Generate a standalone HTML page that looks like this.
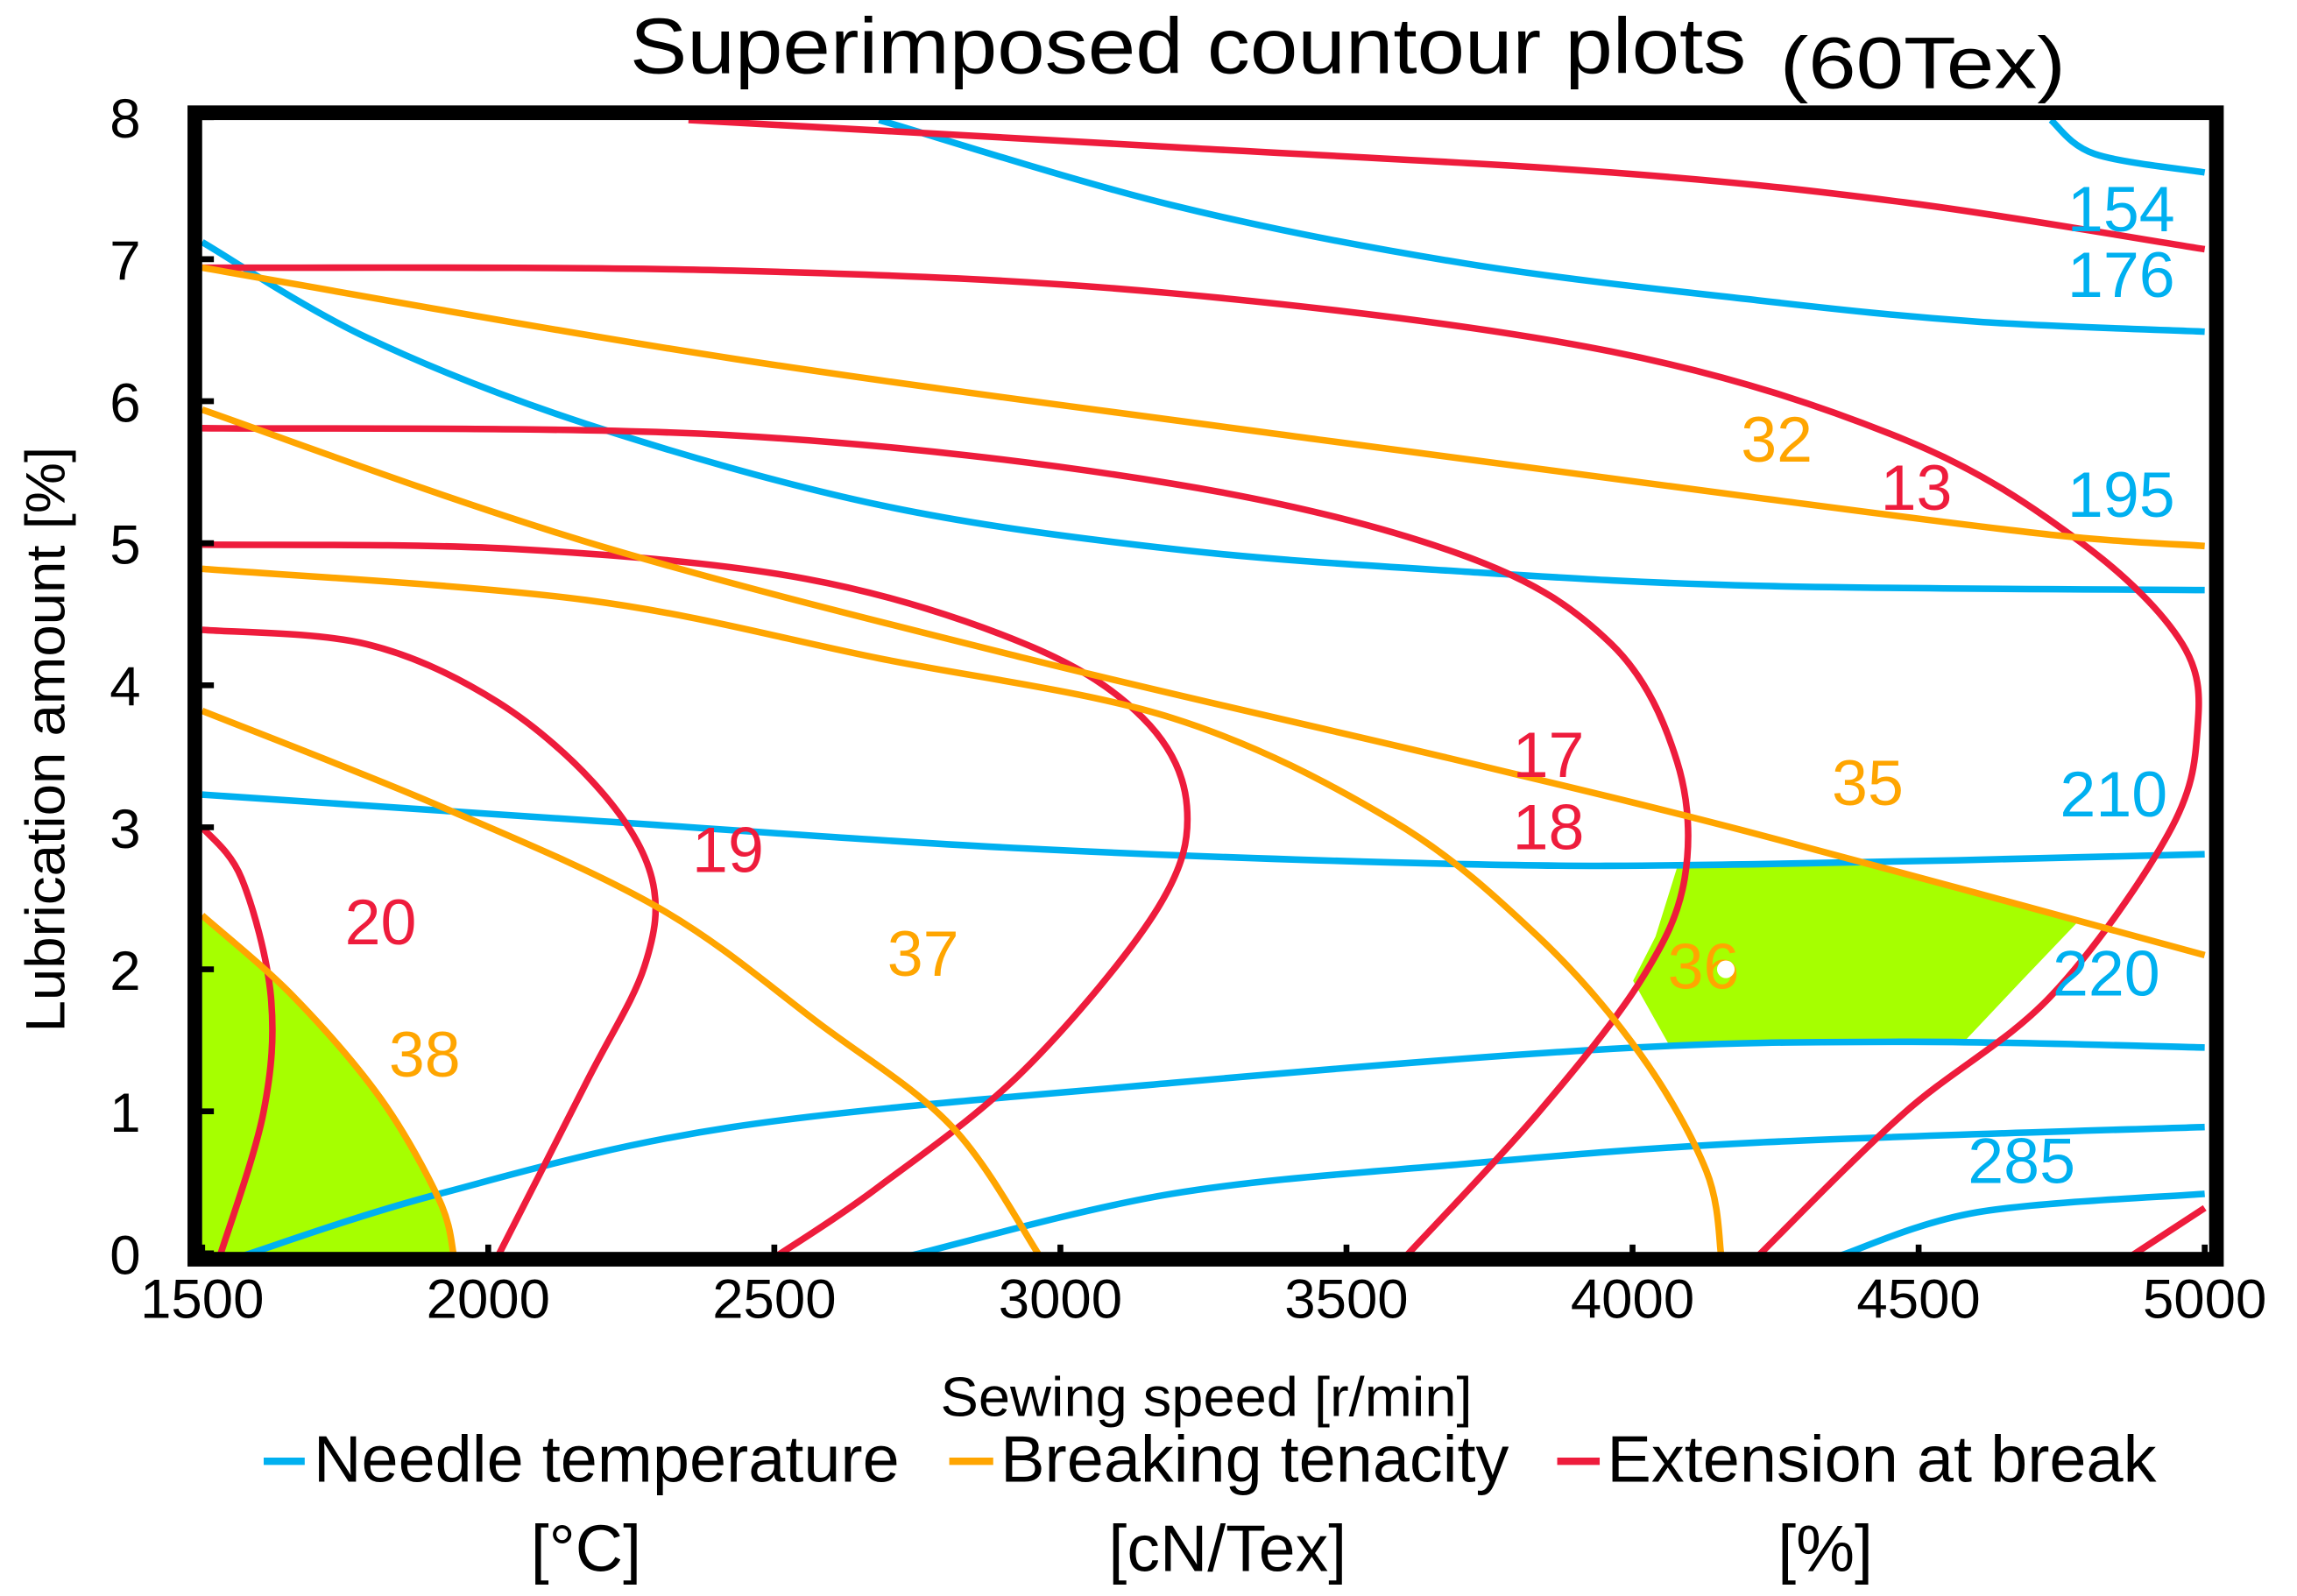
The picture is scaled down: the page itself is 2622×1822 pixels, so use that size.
<!DOCTYPE html>
<html><head><meta charset="utf-8"><style>
html,body{margin:0;padding:0;background:#fff;}
svg{display:block;font-family:"Liberation Sans",Arial,sans-serif;}
</style></head><body>
<svg id="chart" width="2622" height="1822" viewBox="0 0 1568 1090" preserveAspectRatio="none" xmlns="http://www.w3.org/2000/svg">
<text x="430" y="50" font-size="54" textLength="762" lengthAdjust="spacingAndGlyphs">Superimposed countour plots</text>
<text x="1215" y="60" font-size="50" textLength="195" lengthAdjust="spacingAndGlyphs">(60Tex)</text>
<g id="fills"></g>
<g id="lines"></g>
<g id="labels"></g>
<rect x="133" y="77" width="1380" height="783" fill="none" stroke="#000" stroke-width="10"/>
<g id="ticks"></g>
<text x="642" y="967" font-size="38" textLength="363" lengthAdjust="spacingAndGlyphs">Sewing speed [r/min]</text>
<text transform="translate(44,505) rotate(-90)" font-size="38" text-anchor="middle" textLength="400" lengthAdjust="spacingAndGlyphs">Lubrication amount [%]</text>
<g>
<line x1="180" y1="998" x2="208" y2="998" stroke="#00b0f0" stroke-width="5"/>
<text x="214" y="1012" font-size="45" textLength="400" lengthAdjust="spacingAndGlyphs">Needle temperature</text>
<line x1="648" y1="998" x2="678" y2="998" stroke="#ffa500" stroke-width="5"/>
<text x="683" y="1012" font-size="45" textLength="347" lengthAdjust="spacingAndGlyphs">Breaking tenacity</text>
<line x1="1063" y1="998" x2="1092" y2="998" stroke="#ee1c3c" stroke-width="5"/>
<text x="1097" y="1012" font-size="45" textLength="375" lengthAdjust="spacingAndGlyphs">Extension at break</text>
<text x="400" y="1073" font-size="45" text-anchor="middle">[°C]</text>
<text x="838" y="1073" font-size="45" text-anchor="middle">[cN/Tex]</text>
<text x="1246" y="1073" font-size="45" text-anchor="middle">[%]</text>
</g>
</svg>
<script>
const xTicks=[1500,2000,2500,3000,3500,4000,4500,5000];
const yTicks=[0,1,2,3,4,5,6,7,8];
// Needle temperature contours [speed, lubrication]
const needle154=[[4731,7.98],[4808,7.74],[5000,7.61]];
const needle176=[[2683,7.98],[3195,7.38],[3707,6.97],[4219,6.71],[4603,6.56],[5000,6.49]];
const needle195=[[1500,7.12],[1787,6.45],[2171,5.84],[2683,5.27],[3195,4.96],[3707,4.80],[4219,4.70],[5000,4.67]];
const needle210=[[1500,3.23],[2171,3.05],[2939,2.85],[3707,2.74],[4219,2.74],[5000,2.81]];
const needle220=[[1569,-0.02],[1915,0.42],[2427,0.89],[3195,1.20],[3963,1.44],[4475,1.49],[5000,1.45]];
const needle285=[[2734,-0.02],[3195,0.42],[3707,0.63],[4219,0.78],[5000,0.89]];
const needleLow=[[4360,-0.02],[4603,0.29],[5000,0.42]];
// Extension at break contours
const ext12=[[2350,7.98],[3195,7.79],[3963,7.61],[4475,7.40],[5000,7.07]];
const ext13=[[1500,6.94],[2427,6.92],[3195,6.76],[3963,6.35],[4475,5.73],[4782,5.01],[4961,4.29],[4987,3.67],[4936,2.95],[4731,1.81],[4475,0.99],[4219,-0.02]];
const ext17=[[1500,5.81],[2427,5.76],[3195,5.42],[3707,4.91],[3963,4.29],[4078,3.46],[4091,2.64],[4014,1.92],[3835,0.99],[3604,-0.02]];
const ext18=[[1500,4.99],[2043,4.96],[2555,4.75],[2939,4.29],[3144,3.77],[3221,3.15],[3170,2.43],[2939,1.30],[2683,0.47],[2504,-0.02]];
const ext19=[[1500,4.39],[1787,4.29],[2017,3.88],[2196,3.26],[2286,2.64],[2273,2.02],[2171,1.20],[2017,-0.02]];
const ext20=[[1500,3.00],[1569,2.64],[1620,1.81],[1607,0.99],[1531,-0.02]];
const ext14=[[4871,-0.02],[5000,0.32]];
// Breaking tenacity contours
const ten32=[[1500,6.94],[2427,6.30],[3451,5.73],[4219,5.32],[4731,5.06],[5000,4.98]];
const ten35=[[1500,5.94],[2171,5.01],[2939,4.19],[3707,3.46],[4219,2.95],[5000,2.10]];
const ten36=[[1500,4.82],[2171,4.60],[2683,4.19],[3195,3.77],[3579,3.05],[3835,2.23],[4014,1.40],[4129,0.58],[4155,-0.02]];
const ten37=[[1500,3.82],[1915,3.15],[2299,2.43],[2581,1.61],[2811,0.89],[2964,-0.02]];
const ten38=[[1500,2.38],[1659,1.81],[1812,1.09],[1915,0.37],[1940,-0.02]];
// Feasible (green) regions
const regionLeft=[[1500,2.38],[1659,1.81],[1812,1.09],[1915,0.37],[1940,-0.02],[1500,-0.02]];
const regionRight=[[4078,2.72],[4424,2.74],[4782,2.35],[4680,1.92],[4577,1.48],[4219,1.47],[4065,1.46],[4001,1.92],[4040,2.23]];
// Contour labels [text, speed, lubrication]
const labelTexts=["154","176","195","210","220","285","13","17","18","19","20","32","35","36","37","38"];
const labelSpeeds=[4854,4854,4854,4841,4828,4680,4496,3853,3853,2419,1812,4252,4411,4124,2760,1889];
const labelLubs=[7.35,6.89,5.34,3.23,1.97,0.65,5.39,3.51,3.00,2.84,2.33,5.73,3.31,2.02,2.11,1.40];

const X0=1500,X1=5000,PX0=138,PX1=1505,PY0=856,PYU=97;
function xs(v){return PX0+(v-X0)/(X1-X0)*(PX1-PX0);}
function ys(v){return PY0-v*PYU;}
const NS="http://www.w3.org/2000/svg";
function smooth(pts,closed){
  const p=pts.map(d=>[xs(d[0]),ys(d[1])]);
  if(closed) return "M"+p.map(q=>q[0].toFixed(1)+","+q[1].toFixed(1)).join("L")+"Z";
  let s="M"+p[0][0]+","+p[0][1];
  for(let i=0;i<p.length-1;i++){
    const a=p[i-1]||p[i],b=p[i],c=p[i+1],d=p[i+2]||c;
    const c1=[b[0]+(c[0]-a[0])/6,b[1]+(c[1]-a[1])/6],c2=[c[0]-(d[0]-b[0])/6,c[1]-(d[1]-b[1])/6];
    s+="C"+c1[0].toFixed(1)+","+c1[1].toFixed(1)+" "+c2[0].toFixed(1)+","+c2[1].toFixed(1)+" "+c[0].toFixed(1)+","+c[1].toFixed(1);
  }
  return s;
}
const fills=document.getElementById('fills'),lines=document.getElementById('lines'),labels=document.getElementById('labels'),ticks=document.getElementById('ticks'),svg=document.getElementById('chart');
[[regionLeft,'feasible-region-left'],[regionRight,'feasible-region-right']].forEach(r=>{
  const el=document.createElementNS(NS,'path');
  el.setAttribute('d',smooth(r[0],true));el.setAttribute('fill','#a6ff00');
  
  
  fills.appendChild(el);
});
const series=[
 [needle154,'#00b0f0','needle-contour-154'],[needle176,'#00b0f0','needle-contour-176'],[needle195,'#00b0f0','needle-contour-195'],[needle210,'#00b0f0','needle-contour-210'],[needle220,'#00b0f0','needle-contour-220'],[needle285,'#00b0f0','needle-contour-285'],[needleLow,'#00b0f0','needle-contour-low'],
 [ext12,'#ee1c3c','extension-contour-12'],[ext13,'#ee1c3c','extension-contour-13'],[ext17,'#ee1c3c','extension-contour-17'],[ext18,'#ee1c3c','extension-contour-18'],[ext19,'#ee1c3c','extension-contour-19'],[ext20,'#ee1c3c','extension-contour-20'],[ext14,'#ee1c3c','extension-contour-14'],
 [ten32,'#ffa500','tenacity-contour-32'],[ten35,'#ffa500','tenacity-contour-35'],[ten36,'#ffa500','tenacity-contour-36'],[ten37,'#ffa500','tenacity-contour-37'],[ten38,'#ffa500','tenacity-contour-38']];
series.forEach(s=>{
  const el=document.createElementNS(NS,'path');
  el.setAttribute('d',smooth(s[0],false));el.setAttribute('fill','none');
  el.setAttribute('stroke',s[1]);el.setAttribute('stroke-width','4.5');
  
  
  lines.appendChild(el);
});
labelTexts.forEach((t,i)=>{
  const el=document.createElementNS(NS,'text');
  el.setAttribute('x',xs(labelSpeeds[i]));el.setAttribute('y',ys(labelLubs[i])+15);
  el.setAttribute('font-size','44');el.setAttribute('text-anchor','middle');
  const c=i<6?'#00b0f0':(i<11?'#ee1c3c':'#ffa500');
  el.setAttribute('fill',c);el.textContent=t;
  
  
  labels.appendChild(el);
});
const dot=document.createElementNS(NS,'circle');
dot.setAttribute('cx',xs(4163));dot.setAttribute('cy',ys(2.0));dot.setAttribute('r','6');dot.setAttribute('fill','#fff');


labels.appendChild(dot);
xTicks.forEach(v=>{
  const t=document.createElementNS(NS,'text');
  t.setAttribute('x',xs(v));t.setAttribute('y',900);t.setAttribute('font-size','38');t.setAttribute('text-anchor','middle');t.textContent=v;
  
  
  svg.appendChild(t);
  const m=document.createElementNS(NS,'line');
  m.setAttribute('x1',xs(v));m.setAttribute('x2',xs(v));m.setAttribute('y1',850);m.setAttribute('y2',858);m.setAttribute('stroke','#000');m.setAttribute('stroke-width','4');
  
  
  ticks.appendChild(m);
});
yTicks.forEach(v=>{
  const t=document.createElementNS(NS,'text');
  t.setAttribute('x',96);t.setAttribute('y',ys(v)+14);t.setAttribute('font-size','38');t.setAttribute('text-anchor','end');t.textContent=v;
  
  
  svg.appendChild(t);
  const m=document.createElementNS(NS,'line');
  m.setAttribute('x1',136);m.setAttribute('x2',146);m.setAttribute('y1',ys(v));m.setAttribute('y2',ys(v));m.setAttribute('stroke','#000');m.setAttribute('stroke-width','4');
  
  
  ticks.appendChild(m);
});
</script>
</body></html>
